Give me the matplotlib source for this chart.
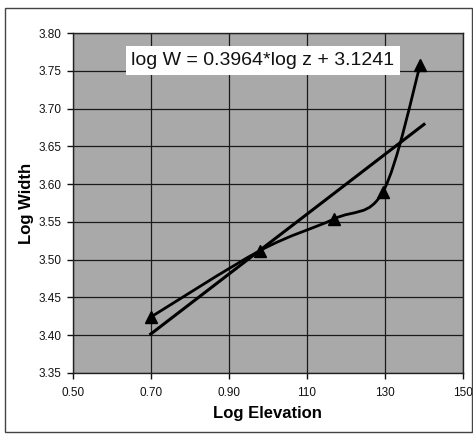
import numpy as np
import matplotlib.pyplot as plt
from matplotlib.path import Path
from matplotlib.patches import PathPatch, Rectangle

# data
log_elev = [0.70, 0.98, 1.17, 1.295, 1.39]
log_width = [3.424, 3.512, 3.554, 3.59, 3.757]

# regression line from the equation in the box
slope = 0.3964
intercept = 3.1241
fit_x = [0.70, 1.40]

x_ticks = [0.50, 0.70, 0.90, 1.10, 1.30, 1.50]
x_labels = ["0.50", "0.70", "0.90", "110", "130", "150"]
y_ticks = [3.35, 3.40, 3.45, 3.50, 3.55, 3.60, 3.65, 3.70, 3.75, 3.80]

plt.rcParams['font.family'] = ['Liberation Sans', 'DejaVu Sans']

fig = plt.figure(figsize=(4.73, 4.36), dpi=100)
fig.patch.set_facecolor('white')

# outer chart frame
fig.patches.append(Rectangle((5/473, 1-432/436), 467/473, 424/436, transform=fig.transFigure,
                             fill=False, edgecolor='#444444', linewidth=1.0))

ax = fig.add_axes([0.1537, 0.1445, 0.8252, 0.7798])
ax.set_facecolor('#a9a9a9')
ax.set_xlim(0.50, 1.50)
ax.set_ylim(3.35, 3.80)
ax.set_xticks(x_ticks)
ax.set_xticklabels(x_labels)
ax.set_yticks(y_ticks)
ax.set_yticklabels(["%.2f" % v for v in y_ticks])
ax.grid(True, color='#1a1a1a', linewidth=0.9)
ax.set_axisbelow(True)
for s in ax.spines.values():
    s.set_color('#222222')
    s.set_linewidth(1.0)
ax.tick_params(direction='out', length=4, width=1, labelsize=8.5, colors='#111111')
ax.tick_params(axis='x', pad=6)
ax.tick_params(axis='y', pad=4)

# smoothed line through the points (excel style bezier)
pts = np.column_stack([log_elev, log_width])
verts = [pts[0]]
codes = [Path.MOVETO]
n = len(pts)
for i in range(n - 1):
    p0 = pts[i - 1] if i > 0 else pts[i]
    p1 = pts[i]
    p2 = pts[i + 1]
    p3 = pts[i + 2] if i + 2 < n else pts[i + 1]
    c1 = p1 + (p2 - p0) / 6.0
    c2 = p2 - (p3 - p1) / 6.0
    verts += [c1, c2, p2]
    codes += [Path.CURVE4] * 3
ax.add_patch(PathPatch(Path(verts, codes), fill=False, edgecolor='black', linewidth=2.0, zorder=3))
ax.plot(log_elev, log_width, linestyle='none', marker='^', markersize=8, color='black', zorder=4)

fit_y = [slope * v + intercept for v in fit_x]
ax.plot(fit_x, fit_y, color='black', linewidth=2.2, zorder=3)

ax.text(0.4876, 0.92, "log W = %.4f*log z + %.4f" % (slope, intercept), transform=ax.transAxes,
        ha='center', va='center', fontsize=14, color='#111111',
        bbox=dict(boxstyle='square,pad=0.3', facecolor='white', edgecolor='none'), zorder=5)

ax.set_xlabel("Log Elevation", fontsize=12, fontweight='bold', labelpad=5)
ax.set_ylabel("Log Width", fontsize=12, fontweight='bold', labelpad=3)

fig.savefig("out.png", dpi=100)
